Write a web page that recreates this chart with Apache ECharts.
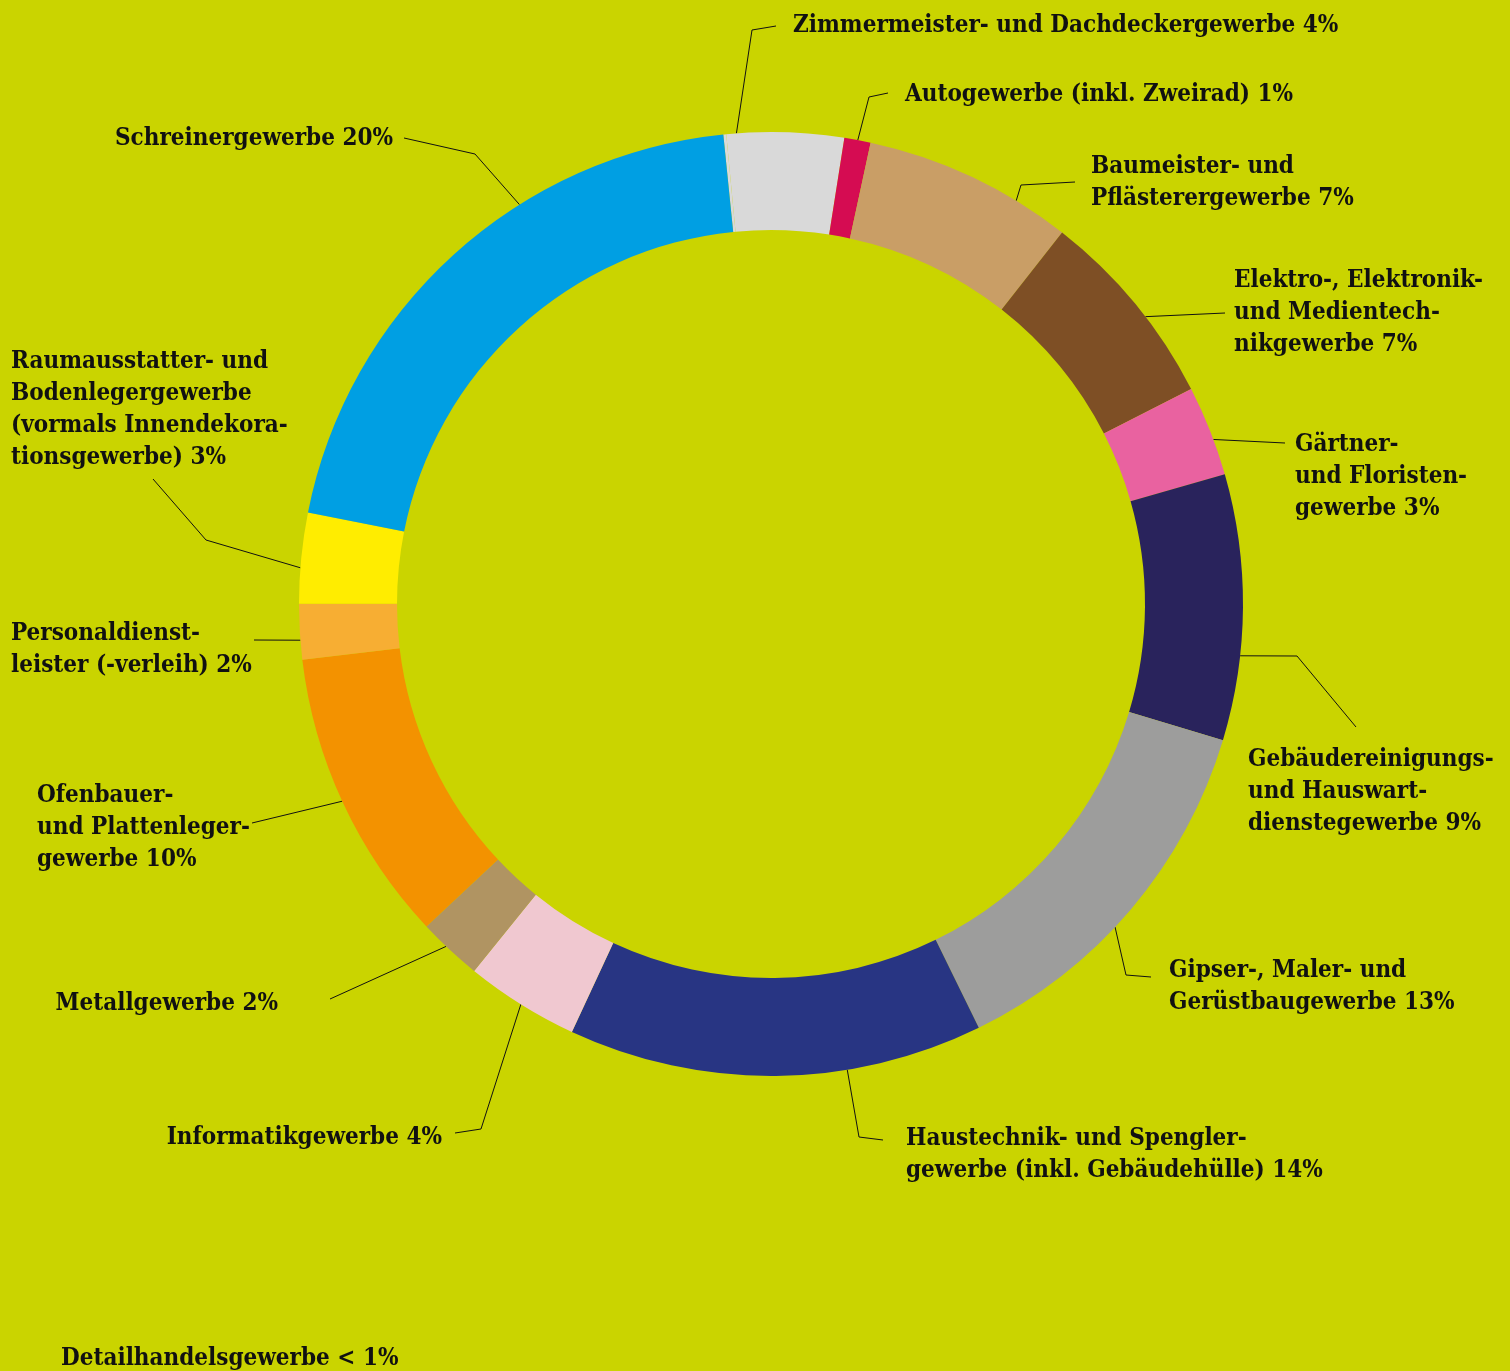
<!DOCTYPE html>
<html>
<head>
<meta charset="utf-8">
<script src="https://cdn.jsdelivr.net/npm/echarts@6/dist/echarts.min.js"></script>
<style>
  html, body { margin: 0; padding: 0; background: #cad400; }
  #main { width: 1510px; height: 1371px; }
</style>
</head>
<body>
<div id="main"></div>
<script>
// share of apprentices per trade (percent), clockwise from the top
var names = [
  'Detailhandelsgewerbe',
  'Zimmermeister- und Dachdeckergewerbe',
  'Autogewerbe (inkl. Zweirad)',
  'Baumeister- und\nPflästerergewerbe',
  'Elektro-, Elektronik-\nund Medientech-\nnikgewerbe',
  'Gärtner-\nund Floristen-\ngewerbe',
  'Gebäudereinigungs-\nund Hauswart-\ndienstegewerbe',
  'Gipser-, Maler- und\nGerüstbaugewerbe',
  'Haustechnik- und Spengler-\ngewerbe (inkl. Gebäudehülle)',
  'Informatikgewerbe',
  'Metallgewerbe',
  'Ofenbauer-\nund Plattenleger-\ngewerbe',
  'Personaldienst-\nleister (-verleih)',
  'Raumausstatter- und\nBodenlegergewerbe\n(vormals Innendekora-\ntionsgewerbe)',
  'Schreinergewerbe'
];
var values = [0.1, 4.0, 0.9, 7.2, 6.9, 3.1, 9.1, 13.1, 14.2, 3.9, 2.2, 10.1, 1.9, 3.1, 20.3];
var colors = ['#d9d9d9', '#d9d9d9', '#d50c52', '#c99e66', '#7e4f25', '#e962a0', '#29235c',
  '#9d9d9c', '#283583', '#f0c8d0', '#b09462', '#f39200', '#f7ae33', '#ffed00', '#009fe3'];

// label block anchor: [x, y of top line, align]
var labelPos = [
  [61, 1343, 'left'], [793, 10, 'left'], [905, 79, 'left'], [1091, 151, 'left'],
  [1234, 265, 'left'], [1295, 429, 'left'], [1248, 744, 'left'], [1169, 955, 'left'],
  [906, 1123, 'left'], [442, 1122, 'right'], [278, 988, 'right'], [37, 780, 'left'],
  [11, 618, 'left'], [11, 346, 'left'], [393, 123, 'right']
];
// leader lines: angle where they leave the ring (deg, clockwise from 12 o'clock), bend, end
var lineAngle = [0, 355.8, 10.6, 31.3, 52.5, 69.6, 96.3, 133.2, 170.7, 212, 223.5, 245.3, 265.6, 274.4, 327.8];
var lineBend = [
  null, [[752, 30], [776, 26]], [[869, 97], [888, 93]], [[1021, 185], [1075, 182]],
  [[1225, 313], [1225, 313]], [[1285, 443], [1285, 443]], [[1297, 656], [1356, 727]],
  [[1126, 975], [1151, 977]], [[859, 1137], [883, 1140]], [[481, 1129], [455, 1133]],
  [[330, 999], [330, 999]], [[252, 823], [252, 823]], [[254, 640], [254, 640]],
  [[206, 540], [153, 479]], [[475, 154], [404, 138]]
];

var CX = 771, CY = 604, R_IN = 374, R_OUT = 472;

var data = names.map(function (n, i) {
  var item = { name: n, value: values[i], itemStyle: { color: colors[i] } };
  if (!lineBend[i]) item.labelLine = { show: false };
  return item;
});

var chart = echarts.init(document.getElementById('main'));
chart.setOption({
  backgroundColor: '#cad400',
  animation: false,
  series: [{
    type: 'pie',
    center: [CX, CY],
    radius: [R_IN, R_OUT],
    startAngle: 95.8,
    clockwise: true,
    avoidLabelOverlap: false,
    silent: true,
    data: data,
    label: {
      show: true,
      position: 'outside',
      color: '#111',
      fontFamily: '"DejaVu Serif Condensed", "DejaVu Serif"',
      fontWeight: 'bold',
      fontSize: 24,
      lineHeight: 32,
      formatter: function (p) {
        var pct = p.value < 0.5 ? '< 1%' : Math.round(p.value) + '%';
        return p.name + ' ' + pct;
      }
    },
    labelLine: {
      show: true,
      lineStyle: { color: '#111', width: 1 }
    },
    labelLayout: function (p) {
      var i = p.dataIndex;
      var pos = labelPos[i];
      var out = { x: pos[0], y: pos[1], align: pos[2], verticalAlign: 'top' };
      if (lineBend[i]) {
        var a = lineAngle[i] * Math.PI / 180;
        var start = [CX + R_OUT * Math.sin(a), CY - R_OUT * Math.cos(a)];
        out.labelLinePoints = [start, lineBend[i][0], lineBend[i][1]];
      }
      return out;
    }
  }]
});
</script>
</body>
</html>
